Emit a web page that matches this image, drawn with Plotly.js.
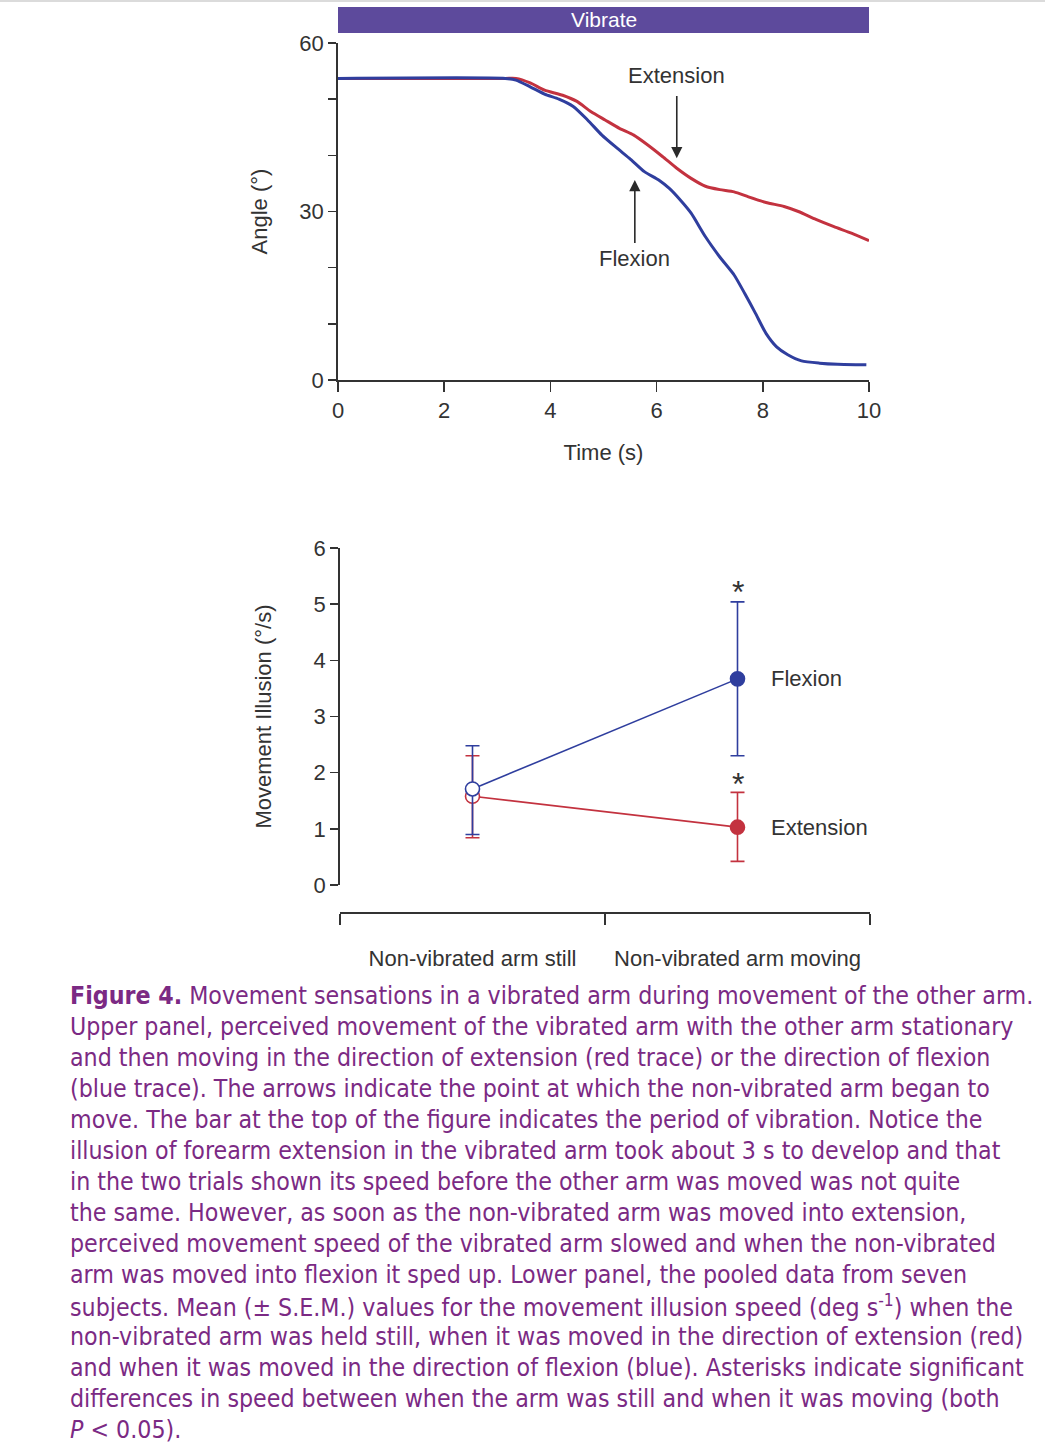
<!DOCTYPE html>
<html>
<head>
<meta charset="utf-8">
<script src="https://cdn.plot.ly/plotly-3.0.1.min.js"></script>
<style>
  html, body { margin: 0; padding: 0; background: #fff; }
  #chart { width: 1055px; height: 1446px; }
</style>
</head>
<body>
<div id="chart"></div>
<script>
// ---------- Upper panel data (angle vs time) ----------
const extTime  = [0, 3.15, 3.35, 3.62, 3.89, 4.23, 4.50, 4.76, 5.03, 5.30, 5.57, 5.84, 6.11, 6.38, 6.65, 6.92, 7.19, 7.46, 7.73, 8.06, 8.40, 8.67, 9.00, 9.34, 9.68, 10.0];
const extAngle = [53.7, 53.7, 53.7, 52.9, 51.6, 50.7, 49.6, 47.8, 46.3, 44.8, 43.6, 41.8, 39.8, 37.7, 35.9, 34.5, 33.9, 33.5, 32.6, 31.6, 30.9, 30.0, 28.6, 27.3, 26.1, 24.8];
const flxTime  = [0, 3.15, 3.35, 3.62, 3.89, 4.16, 4.43, 4.70, 4.97, 5.24, 5.51, 5.77, 6.04, 6.24, 6.45, 6.65, 6.92, 7.19, 7.46, 7.66, 7.86, 8.06, 8.26, 8.47, 8.73, 9.07, 9.41, 9.95];
const flxAngle = [53.7, 53.7, 53.4, 52.2, 50.9, 50.0, 48.7, 46.3, 43.6, 41.4, 39.3, 37.1, 35.6, 34.1, 32.0, 29.7, 25.5, 21.9, 18.7, 15.4, 11.9, 8.3, 5.9, 4.5, 3.4, 3.0, 2.8, 2.7];
const vibrateSpan = [0, 10];
const timeTicks = [0, 2, 4, 6, 8, 10];
const angleTicks = [0, 30, 60];
const angleMinorTicks = [10, 20, 40, 50];
const extArrow = {x: 6.38, tip: 39.5, label: 54.3};
const flxArrow = {x: 5.59, tip: 35.6, label: 21.7};

// ---------- Lower panel data (pooled) ----------
const conditions = ['Non-vibrated arm still', 'Non-vibrated arm moving'];
const condPos = [0.5, 1.5];
const condBounds = [0, 1, 2];
const flexionMean = [1.71, 3.67];
const flexionErrPlus = [0.77, 1.37];
const flexionErrMinus = [0.81, 1.37];
const extensionMean = [1.58, 1.03];
const extensionErrPlus = [0.72, 0.62];
const extensionErrMinus = [0.74, 0.61];
const illusionTicks = [0, 1, 2, 3, 4, 5, 6];
const asteriskY = [5.22, 1.79];

// ---------- Caption ----------
const captionLines = [
  '<b>Figure 4.</b> Movement sensations in a vibrated arm during movement of the other arm.',
  'Upper panel, perceived movement of the vibrated arm with the other arm stationary',
  'and then moving in the direction of extension (red trace) or the direction of flexion',
  '(blue trace). The arrows indicate the point at which the non-vibrated arm began to',
  'move. The bar at the top of the figure indicates the period of vibration. Notice the',
  'illusion of forearm extension in the vibrated arm took about 3 s to develop and that',
  'in the two trials shown its speed before the other arm was moved was not quite',
  'the same. However, as soon as the non-vibrated arm was moved into extension,',
  'perceived movement speed of the vibrated arm slowed and when the non-vibrated',
  'arm was moved into flexion it sped up. Lower panel, the pooled data from seven',
  'subjects. Mean (± S.E.M.) values for the movement illusion speed (deg s<sup>-1</sup>) when the',
  'non-vibrated arm was held still, when it was moved in the direction of extension (red)',
  'and when it was moved in the direction of flexion (blue). Asterisks indicate significant',
  'differences in speed between when the arm was still and when it was moving (both',
  '<i>P</i> &lt; 0.05).'
];

const RED = '#C3323F';
const BLUE = '#2F3E9E';
const AX = '#333333';
const W = 1055, H = 1446;
const py = p => 1 - p / H;   // pixel row -> paper y
const px = p => p / W;       // pixel col -> paper x
const FONT = 'Liberation Sans, Arial, sans-serif';

const traces = [
  {x: extTime, y: extAngle, xaxis: 'x', yaxis: 'y', mode: 'lines',
   line: {color: RED, width: 3, shape: 'spline', smoothing: 0.6}, hoverinfo: 'skip'},
  {x: flxTime, y: flxAngle, xaxis: 'x', yaxis: 'y', mode: 'lines',
   line: {color: BLUE, width: 3, shape: 'spline', smoothing: 0.6}, hoverinfo: 'skip'},
  // lower panel
  {x: condPos, y: extensionMean, xaxis: 'x2', yaxis: 'y2', mode: 'lines+markers',
   line: {color: RED, width: 1.6},
   marker: {size: 14, color: ['#ffffff', RED], line: {color: RED, width: 1.6}},
   error_y: {type: 'data', array: extensionErrPlus, arrayminus: extensionErrMinus, symmetric: false,
             color: RED, thickness: 1.6, width: 7}},
  {x: condPos, y: flexionMean, xaxis: 'x2', yaxis: 'y2', mode: 'lines+markers',
   line: {color: BLUE, width: 1.6},
   marker: {size: 14, color: ['#ffffff', BLUE], line: {color: BLUE, width: 1.6}},
   error_y: {type: 'data', array: flexionErrPlus, arrayminus: flexionErrMinus, symmetric: false,
             color: BLUE, thickness: 1.6, width: 7}},
  // category labels via an overlay axis
  {x: condPos, y: [null, null], xaxis: 'x3', yaxis: 'y2', mode: 'markers', hoverinfo: 'skip', showlegend: false}
];

const tickFont = {family: FONT, size: 22, color: AX};

const annotations = [
  {xref: 'x', yref: 'paper', x: (vibrateSpan[0] + vibrateSpan[1]) / 2, y: py(20), yanchor: 'middle', text: 'Vibrate',
   showarrow: false, font: {family: FONT, size: 21, color: '#ffffff'}},
  {xref: 'x', yref: 'y', x: extArrow.x, y: extArrow.tip, ax: extArrow.x, ay: extArrow.label,
   axref: 'x', ayref: 'y', text: 'Extension', font: tickFont,
   showarrow: true, arrowhead: 2, arrowsize: 1.4, arrowwidth: 1.6, arrowcolor: '#2a2a2a', startstandoff: 7},
  {xref: 'x', yref: 'y', x: flxArrow.x, y: flxArrow.tip, ax: flxArrow.x, ay: flxArrow.label,
   axref: 'x', ayref: 'y', text: 'Flexion', font: tickFont,
   showarrow: true, arrowhead: 2, arrowsize: 1.4, arrowwidth: 1.6, arrowcolor: '#2a2a2a', startstandoff: 1},
  {xref: 'x2', yref: 'y2', x: condPos[1] + 0.12, y: flexionMean[1], text: 'Flexion', xanchor: 'left', yanchor: 'middle',
   showarrow: false, font: tickFont},
  {xref: 'x2', yref: 'y2', x: condPos[1] + 0.12, y: extensionMean[1], text: 'Extension', xanchor: 'left', yanchor: 'middle',
   showarrow: false, font: tickFont},
  {xref: 'x2', yref: 'y2', x: condPos[1], y: asteriskY[0], text: '*', showarrow: false, yanchor: 'middle',
   font: {family: FONT, size: 32, color: AX}},
  {xref: 'x2', yref: 'y2', x: condPos[1], y: asteriskY[1], text: '*', showarrow: false, yanchor: 'middle',
   font: {family: FONT, size: 32, color: AX}}
];

captionLines.forEach((t, i) => {
  annotations.push({
    xref: 'paper', yref: 'paper', x: px(68), y: py(995 + i * 31.07), xanchor: 'left', yanchor: 'middle',
    text: t, showarrow: false, align: 'left',
    font: {family: 'DejaVu Sans Condensed, Liberation Sans Narrow, Arial Narrow, sans-serif', size: 24.7, color: '#7B2A84'}
  });
});

const layout = {
  width: W, height: H,
  margin: {l: 0, r: 0, t: 0, b: 0},
  paper_bgcolor: '#ffffff', plot_bgcolor: 'rgba(0,0,0,0)',
  showlegend: false,
  font: {family: FONT, color: AX},
  xaxis: {
    domain: [px(338), px(869)], range: [0, 10], anchor: 'y',
    tickvals: timeTicks, ticks: 'outside', ticklen: 10, tickwidth: 1.5, tickcolor: AX,
    showline: true, linecolor: AX, linewidth: 1.8, showgrid: false, zeroline: false,
    tickfont: tickFont, automargin: false,
    title: {text: 'Time (s)', font: tickFont, standoff: 22}
  },
  yaxis: {
    domain: [py(380), py(43)], range: [0, 60], anchor: 'x',
    tickvals: angleTicks, ticks: 'outside', ticklen: 8, tickwidth: 1.5, tickcolor: AX,
    minor: {tickvals: angleMinorTicks, ticks: 'outside', ticklen: 8, tickwidth: 1.5, tickcolor: AX, showgrid: false},
    showline: true, linecolor: AX, linewidth: 1.8, showgrid: false, zeroline: false,
    tickfont: tickFont, automargin: false,
    title: {text: 'Angle (°)', font: tickFont, standoff: 26}
  },
  xaxis2: {
    domain: [px(340), px(870)], range: [0, 2], anchor: 'free', position: py(912),
    tickvals: condBounds, showticklabels: false, ticks: 'outside', ticklen: 11, tickwidth: 1.5, tickcolor: AX,
    showline: true, linecolor: AX, linewidth: 1.8, showgrid: false, zeroline: false, automargin: false
  },
  xaxis3: {
    domain: [px(340), px(870)], range: [0, 2], anchor: 'free', position: py(943), overlaying: 'x2',
    tickvals: condPos, ticktext: conditions, ticks: '', showline: false, showgrid: false, zeroline: false,
    tickfont: tickFont, automargin: false
  },
  yaxis2: {
    domain: [py(885), py(548)], range: [0, 6], anchor: 'x2',
    tickvals: illusionTicks, ticks: 'outside', ticklen: 8, tickwidth: 1.5, tickcolor: AX,
    showline: true, linecolor: AX, linewidth: 1.8, showgrid: false, zeroline: false,
    tickfont: tickFont, automargin: false,
    title: {text: 'Movement Illusion (°/s)', font: tickFont, standoff: 36}
  },
  shapes: [
    {type: 'rect', xref: 'x', yref: 'paper', x0: vibrateSpan[0], x1: vibrateSpan[1], y0: py(33), y1: py(7),
     fillcolor: '#5D4A9C', line: {width: 0}, layer: 'below'},
    {type: 'line', xref: 'paper', yref: 'paper', x0: 0, x1: px(1045), y0: py(1), y1: py(1),
     line: {color: '#cfcfcf', width: 1.5}}
  ],
  annotations: annotations
};

Plotly.newPlot('chart', traces, layout, {staticPlot: true, displayModeBar: false});
</script>
</body>
</html>
